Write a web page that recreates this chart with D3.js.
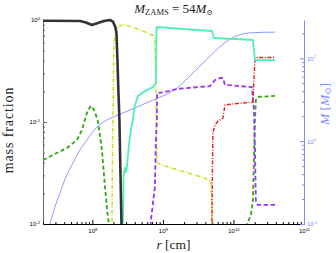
<!DOCTYPE html>
<html lang="en">
<head>
<meta charset="UTF-8">
<title>Mass fraction profile</title>
<script src="https://d3js.org/d3.v7.min.js"></script>
<style>
  body { margin: 0; background: #fff; }
  svg { display: block; font-family: "Liberation Serif", "DejaVu Serif", serif; }
  .tick text { font-size: 6px; }
  .line { fill: none; stroke-linejoin: round; }
</style>
</head>
<body>
<script>
const width = 336, height = 253;
const margin = {top: 20, right: 32, bottom: 29, left: 43};
const w = width - margin.left - margin.right;
const h = height - margin.top - margin.bottom;

// tick labels (decade exponents)
const xTicks = [8, 9, 10, 11];
const yTicks = [-2, -1, 0];
const mTicks = [-1, 0, 1];

// mass fraction profiles, r in cm (values below 0.01 fall off the axis)
const blackR = [2.0e7, 6.67e7, 8.11e7, 9.87e7, 1.20e8, 1.46e8, 1.78e8, 1.96e8, 2.12e8, 2.20e8, 2.27e8, 2.34e8, 2.42e8, 2.50e8, 2.59e8, 2.63e8];
const blackX = [0.984, 0.978, 0.945, 0.893, 0.935, 0.978, 1.0, 0.965, 0.854, 0.746, 0.405, 0.206, 0.105, 0.0338, 0.01, 0.005];

const yellowR = [1.90e8, 1.90e8, 1.93e8, 1.99e8, 2.02e8, 2.12e8, 2.31e8, 2.63e8, 2.99e8, 4.02e8, 5.57e8, 7.23e8, 7.71e8, 7.98e8, 8.11e8, 8.24e8, 1.07e9, 1.48e9, 2.06e9, 2.85e9, 3.95e9, 4.80e9, 4.88e9, 4.96e9, 4.96e9];
const yellowX = [0.005, 0.01, 0.053, 0.26, 0.57, 0.76, 0.854, 0.893, 0.893, 0.835, 0.763, 0.705, 0.637, 0.206, 0.0835, 0.0397, 0.0371, 0.0346, 0.0323, 0.0302, 0.0282, 0.0264, 0.0172, 0.01, 0.005];

const cyanR = [2.72e8, 2.72e8, 2.76e8, 2.76e8, 2.90e8, 2.99e8, 3.09e8, 3.30e8, 3.52e8, 3.76e8, 4.02e8, 4.43e8, 5.57e8, 7.23e8, 7.98e8, 8.11e8, 8.24e8, 1.26e9, 2.42e9, 4.96e9, 5.29e9, 1.05e10, 1.89e10, 2.02e10, 3.88e10];
const cyanX = [0.005, 0.01, 0.0216, 0.029, 0.0354, 0.0323, 0.0362, 0.0595, 0.0835, 0.105, 0.147, 0.180, 0.201, 0.220, 0.241, 0.835, 0.854, 0.835, 0.807, 0.780, 0.666, 0.651, 0.637, 0.405, 0.405];

const purpleR = [6.34e8, 6.78e8, 7.71e8, 7.98e8, 8.24e8, 8.24e8, 1.07e9, 1.58e9, 4.65e9, 5.47e9, 6.44e9, 7.10e9, 7.58e9, 1.83e10, 1.95e10, 2.02e10, 2.08e10, 2.22e10, 3.88e10];
const purpleX = [0.005, 0.011, 0.0231, 0.0713, 0.105, 0.192, 0.197, 0.211, 0.225, 0.258, 0.270, 0.270, 0.231, 0.220, 0.131, 0.0531, 0.0161, 0.0154, 0.0154];

const greenR = [2.0e7, 2.76e7, 4.36e7, 6.05e7, 7.13e7, 7.86e7, 8.38e7, 9.25e7, 9.87e7, 1.09e8, 1.20e8, 1.37e8, 1.51e8, 1.66e8, 1.72e8, 1.78e8, 1.41e10, 1.56e10, 1.77e10, 1.89e10, 1.95e10, 2.02e10, 2.08e10, 2.22e10, 3.88e10];
const greenX = [0.0424, 0.0475, 0.0556, 0.0666, 0.0835, 0.105, 0.1225, 0.140, 0.1435, 0.125, 0.102, 0.0531, 0.0231, 0.0117, 0.01, 0.005, 0.005, 0.01, 0.01225, 0.0172, 0.0424, 0.105, 0.164, 0.176, 0.180];

const redR = [4.96e9, 4.96e9, 5.04e9, 5.12e9, 5.47e9, 6.04e9, 7.10e9, 7.58e9, 9.53e9, 1.89e10, 1.95e10, 2.02e10, 2.15e10, 3.88e10];
const redX = [0.005, 0.01, 0.0338, 0.078, 0.0935, 0.102, 0.1095, 0.147, 0.150, 0.157, 0.258, 0.405, 0.429, 0.429];

// enclosed mass M(r) in solar masses, right axis
const massR = [2.51e7, 2.95e7, 3.48e7, 4.23e7, 5.31e7, 6.67e7, 8.38e7, 1.16e8, 1.61e8, 2.31e8, 3.41e8, 7.23e8, 1.07e9, 1.58e9, 2.26e9, 3.35e9, 4.65e9, 6.44e9, 8.93e9, 1.24e10, 1.89e10, 3.88e10];
const massM = [0.1, 0.160, 0.237, 0.369, 0.544, 0.782, 1.03, 1.48, 1.80, 2.07, 2.37, 3.13, 3.60, 4.37, 5.77, 8.05, 10.6, 13.8, 17.0, 19.3, 20.4, 20.7];

const svg = d3.select("body").append("svg")
    .attr("width", width).attr("height", height);

const g = svg.append("g").attr("transform", `translate(${margin.left},${margin.top})`);

const x = d3.scaleLog().domain([2e7, 1e11]).range([0, w]);
const y = d3.scaleLog().domain([0.01, 1]).range([h, 0]);
const yM = d3.scaleLog().domain([0.1, 29]).range([h, 0]);

function minors(lo, hi) {
    const out = [];
    for (let e = lo; e < hi; e++)
        for (let k = 2; k <= 9; k++) out.push(k * Math.pow(10, e));
    return out;
}

function supLabels(sel, exps, size) {
    sel.selectAll(".tick text").each(function(d, i) {
        const t = d3.select(this).text("");
        t.append("tspan").text("10");
        t.append("tspan").attr("dy", -2.6).attr("font-size", size).text(exps[i]);
    });
}

// left axis
const yAxis = g.append("g")
    .call(d3.axisLeft(y).tickValues(yTicks.map(e => Math.pow(10, e))).tickSize(-4).tickSizeOuter(0).tickPadding(3));
yAxis.call(supLabels, yTicks, 4.2);
g.append("g").call(d3.axisLeft(y).tickValues(minors(-2, 0)).tickSize(-2).tickFormat(""))
    .select(".domain").remove();
yAxis.select(".domain").attr("stroke", "#666");
g.selectAll(".tick line").attr("stroke", "#666");

// bottom axis
const xAxis = g.append("g").attr("transform", `translate(0,${h})`)
    .call(d3.axisBottom(x).tickValues(xTicks.map(e => Math.pow(10, e))).tickSize(-4).tickSizeOuter(0).tickPadding(5));
xAxis.call(supLabels, xTicks, 4.2);
g.append("g").attr("transform", `translate(0,${h})`)
    .call(d3.axisBottom(x).tickValues(minors(7, 11).filter(v => v >= 2e7)).tickSize(-2).tickFormat(""))
    .select(".domain").remove();

// right axis
const blue = "#7b8cff";
const mAxis = g.append("g").attr("transform", `translate(${w},0)`)
    .call(d3.axisRight(yM).tickValues(mTicks.map(e => Math.pow(10, e))).tickSize(-4).tickSizeOuter(0).tickPadding(3));
mAxis.call(supLabels, mTicks, 4.2);
const mMinor = g.append("g").attr("transform", `translate(${w},0)`)
    .call(d3.axisRight(yM).tickValues(minors(-1, 2).filter(v => v <= 29)).tickSize(-2).tickFormat(""));
mMinor.select(".domain").remove();
mAxis.select(".domain").attr("stroke", blue);
mAxis.selectAll("line").attr("stroke", blue);
mMinor.selectAll("line").attr("stroke", blue);
mAxis.selectAll("text").attr("fill", blue);

// clip for curves
svg.append("defs").append("clipPath").attr("id", "plot")
    .append("rect").attr("x", 0).attr("y", -6).attr("width", w).attr("height", h + 6);

const plot = g.append("g").attr("clip-path", "url(#plot)");

const line = d3.line().x(d => x(d[0])).y(d => y(d[1]));
const mline = d3.line().x(d => x(d[0])).y(d => yM(d[1])).curve(d3.curveMonotoneX);

plot.append("path").attr("class", "line")
    .attr("d", mline(d3.zip(massR, massM)))
    .attr("stroke", "#6f80ff").attr("stroke-width", 0.8);

const series = [
    {r: greenR, v: greenX, color: "#2fa80e", width: 1.8, dash: "4,2.6"},
    {r: yellowR, v: yellowX, color: "#cadc0a", width: 1.4, dash: "4,1.6,1,1.6"},
    {r: purpleR, v: purpleX, color: "#9a33ff", width: 1.8, dash: "4.5,2.6"},
    {r: redR, v: redX, color: "#f0161a", width: 1.4, dash: "4,1.6,1,1.6"},
    {r: cyanR, v: cyanX, color: "#4ff0b8", width: 1.8, dash: null},
    {r: blackR, v: blackX, color: "#333333", width: 2.6, dash: null}
];

series.forEach(s => {
    plot.append("path").attr("class", "line")
        .attr("d", line(d3.zip(s.r, s.v)))
        .attr("stroke", s.color)
        .attr("stroke-width", s.width)
        .attr("stroke-dasharray", s.dash);
});

// title
const title = svg.append("text").attr("x", margin.left + w / 2).attr("y", 13)
    .attr("text-anchor", "middle").attr("font-size", 13).attr("fill", "#222");
title.append("tspan").attr("font-style", "italic").text("M");
title.append("tspan").attr("font-size", 8.5).attr("dy", 2).text("ZAMS");
title.append("tspan").attr("dy", -2).text(" = 54");
title.append("tspan").attr("font-style", "italic").text("M");
title.append("tspan").attr("font-size", 7.5).attr("dy", 2).text("⊙");

// axis labels
svg.append("text")
    .attr("transform", `translate(13,${margin.top + h / 2 + 8}) rotate(-90)`)
    .attr("text-anchor", "middle").attr("font-size", 14).attr("letter-spacing", 0.9)
    .attr("fill", "#222")
    .text("mass fraction");

const xl = svg.append("text").attr("x", margin.left + w / 2).attr("y", 249)
    .attr("text-anchor", "middle").attr("font-size", 13.5).attr("fill", "#222");
xl.append("tspan").attr("font-style", "italic").text("r");
xl.append("tspan").text(" [cm]");

const ml = svg.append("text")
    .attr("transform", `translate(329,${margin.top + h / 2 - 18}) rotate(-90)`)
    .attr("text-anchor", "middle").attr("font-size", 13.5).attr("fill", blue);
ml.append("tspan").attr("font-style", "italic").text("M");
ml.append("tspan").text(" [");
ml.append("tspan").attr("font-style", "italic").text("M");
ml.append("tspan").attr("font-size", 8.5).attr("dy", 2).text("⊙");
ml.append("tspan").attr("dy", -2).text("]");
</script>
</body>
</html>
